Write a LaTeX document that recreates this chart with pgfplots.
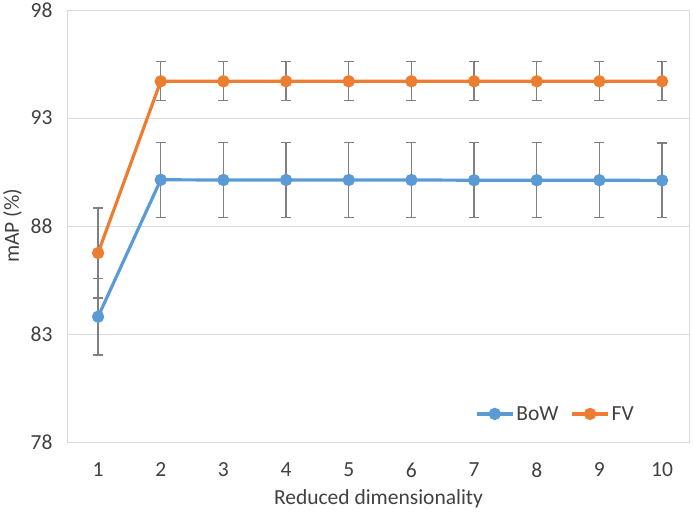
\documentclass[border=0pt]{standalone}
\usepackage{fontspec}
\setmainfont{Carlito}
\usepackage{pgfplots}
\pgfplotsset{compat=1.18}
\definecolor{bowc}{RGB}{91,155,213}
\definecolor{fvc}{RGB}{237,125,49}
\definecolor{gridc}{RGB}{217,217,217}
\definecolor{txtc}{RGB}{64,64,64}
\definecolor{errc}{RGB}{128,128,128}
\begin{document}
\begin{tikzpicture}
\useasboundingbox (-68pt,-70pt) rectangle (625pt,442pt);
\begin{axis}[
  scale only axis,
  width=621pt, height=432pt,
  xmin=0.52, xmax=10.43,
  ymin=78, ymax=98,
  xtick={1,...,10},
  ytick={78,83,88,93,98},
  ymajorgrids, grid style={gridc, line width=1pt},
  axis line style={gridc, line width=1pt},
  major tick length=0pt,
  tick style={draw=none},
  font=\fontsize{21.5}{24}\selectfont,
  /pgf/number format/assume math mode=true,
  tick label style={txtc},
  yticklabel style={xshift=-12pt},
  xticklabel style={yshift=-17pt},
  xlabel={Reduced dimensionality},
  ylabel={mAP (\%)},
  label style={txtc},
  xlabel style={yshift=-5pt},
  ylabel style={yshift=2pt},
  legend columns=2,
  legend style={draw=none, fill=none, at={(rel axis cs:0.785,0.065)}, anchor=center,
    font=\fontsize{21.5}{24}\selectfont, text=txtc,
    nodes={inner xsep=2pt},
    /tikz/every even column/.append style={column sep=10pt}},
  legend image code/.code={\draw[mark repeat=2,mark phase=2,#1] plot coordinates {(0pt,0pt) (18pt,0pt) (36pt,0pt)};},
  every axis plot/.append style={line width=3.2pt, mark=*, mark size=4.5pt},
  error bars/y dir=both, error bars/y explicit,
  error bars/error bar style={errc, line width=1.3pt},
  error bars/error mark options={errc, rotate=90, mark size=5pt, line width=1.2pt},
]
\addplot[color=bowc, mark options={fill=bowc, draw=bowc}] table[x=x, y=y, y error=e] {
x y e
1 83.80 1.77
2 90.14 1.73
3 90.13 1.73
4 90.13 1.73
5 90.13 1.73
6 90.13 1.73
7 90.12 1.73
8 90.12 1.73
9 90.12 1.73
10 90.11 1.73
};
\addlegendentry{BoW}
\addplot[color=fvc, mark options={fill=fvc, draw=fvc}] table[x=x, y=y, y error=e] {
x y e
1 86.75 2.08
2 94.70 0.90
3 94.70 0.90
4 94.70 0.90
5 94.70 0.90
6 94.70 0.90
7 94.70 0.90
8 94.70 0.90
9 94.70 0.90
10 94.70 0.90
};
\addlegendentry{FV}
\end{axis}
\end{tikzpicture}
\end{document}
